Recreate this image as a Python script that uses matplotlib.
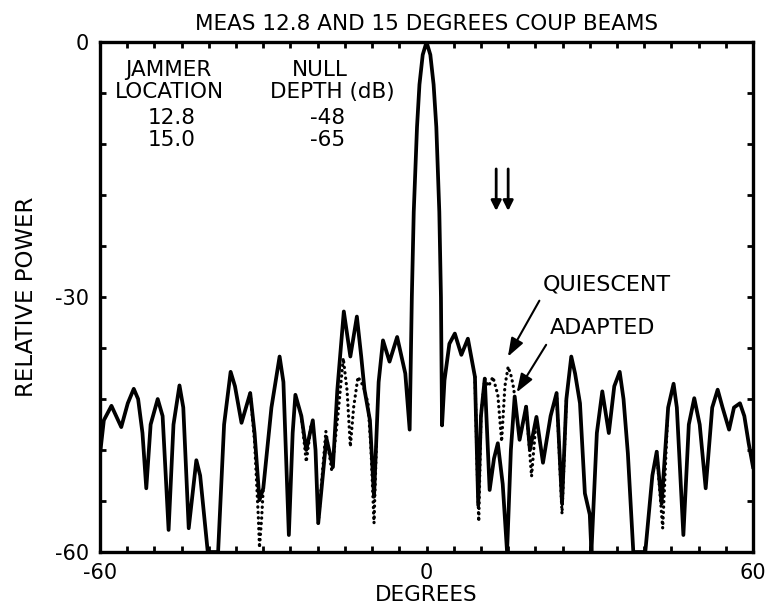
import numpy as np
import matplotlib.pyplot as plt
from matplotlib.ticker import MultipleLocator, FixedLocator, FixedFormatter

plt.rcParams["font.family"] = "DejaVu Sans"
plt.rcParams["axes.unicode_minus"] = False

# adapted pattern (solid line), degrees vs relative power (dB)
adapted_deg = [-60, -59.3, -57.9, -56.1, -54.9, -53.8, -53.0, -52.2, -51.5, -50.7,
               -49.4, -48.5, -47.4, -46.5, -45.4, -44.7, -43.7, -42.3, -41.6, -40.2,
               -38.3, -37.2, -36.0, -35.2, -34.0, -32.4, -31.6, -30.7, -30.0, -28.5,
               -27.0, -26.3, -25.3, -24.6, -24.1, -23.0, -22.1, -20.9, -20.4, -19.9,
               -18.4, -17.2, -16.4, -15.2, -14.0, -12.8, -12.0, -11.4, -10.4, -9.65,
               -8.8, -8.0, -6.8, -5.4, -3.9, -3.1, -2.7, -2.35, -1.75, -1.3,
               -0.7, 0, 0.7, 1.3, 1.8, 2.35, 2.65, 2.85, 3.3, 4.2,
               5.2, 6.4, 7.6, 8.9, 9.5, 10.0, 10.7, 11.6, 12.4, 13.1,
               14.0, 14.8, 15.5, 16.2, 17.1, 18.3, 19.0, 20.2, 21.4, 22.8,
               23.9, 24.9, 25.7, 26.6, 27.3, 28.2, 29.1, 30.0, 30.3, 31.3,
               32.3, 33.5, 34.5, 35.5, 36.2, 37.0, 38.0, 40.2, 41.5, 42.3,
               43.2, 44.4, 45.4, 46.0, 47.2, 48.2, 49.2, 50.2, 51.3, 52.5,
               53.5, 54.4, 55.6, 56.5, 57.6, 58.4, 59.2, 60]
adapted_db = [-48.5, -44.5, -42.8, -45.3, -42.5, -40.8, -42, -46, -52.5, -45,
              -42.0, -44, -57.4, -45, -40.4, -43, -57.2, -49.2, -51, -60,
              -60, -45, -38.8, -40.5, -44.8, -41.3, -46, -53.9, -52.5, -43,
              -37.0, -40, -58, -46, -41.5, -44, -48, -44.5, -48, -56.6,
              -46.6, -50, -41, -31.7, -37.0, -32.3, -37, -40.9, -44.5, -53.5,
              -40, -35.1, -37.6, -34.7, -39.0, -45.6, -30, -20, -10, -5,
              -1.5, 0, -1.5, -5, -10, -20, -30, -45.1, -39.8, -35.5,
              -34.3, -36.8, -34.9, -39.4, -54.5, -44, -39.6, -52.7, -49, -47.2,
              -52, -60, -48, -41.7, -46.8, -42.9, -48, -44.1, -49.5, -44,
              -41.3, -54.3, -42, -37.0, -39, -42.5, -53.1, -55.6, -60, -46,
              -41.1, -46, -40.5, -38.8, -42, -48.4, -60, -60, -51, -48.2,
              -54.3, -43, -40.2, -43, -58, -45, -41.9, -45, -52.5, -43,
              -40.9, -43, -45.6, -43, -42.5, -44, -47.2, -50]

# quiescent pattern (dotted) where it departs from the adapted one
quiescent_deg = [-32.4, -31.6, -30.9, -30.7, -30.3, -30.0, np.nan,
                 -23.0, -22.1, -21.2, np.nan,
                 -19.9, -18.5, -17.4, -16.3, -15.3, -14.6, -14.0, -13.4, -12.6,
                 -11.6, -10.75, -10.2, -9.65, -9.2, np.nan,
                 8.9, 9.3, 9.6, 10.0, 10.7, 11.4, 12.2, 13.1, 13.8, 14.4, 15.0,
                 15.6, 16.0, 16.2, np.nan,
                 18.3, 19.3, 20.2, np.nan,
                 23.9, 24.9, 25.7, np.nan,
                 42.3, 43.4, 44.3]
quiescent_db = [-41.3, -47, -56, -59.5, -56, -52.5, np.nan,
                -44, -49.4, -45, np.nan,
                -56.6, -45.8, -50.5, -44, -37.2, -41, -47.6, -43, -39.4,
                -40.5, -42.5, -48, -56.6, -47, np.nan,
                -39.4, -50, -56.4, -44, -39.6, -40.5, -39.4, -41.5, -47, -40.5, -38.2,
                -39.4, -40.7, -41.7, np.nan,
                -42.9, -51.1, -44.1, np.nan,
                -41.3, -55.5, -42, np.nan,
                -48.2, -57.2, -44]

jammer_deg = [12.8, 15.0]

fig = plt.figure(figsize=(7.76, 6.12), dpi=100)
ax = fig.add_axes([0.1289, 0.098, 0.8415, 0.8333])

ax.plot(quiescent_deg, quiescent_db, color="black", lw=2.3,
        linestyle=(0, (0.1, 1.6)), dash_capstyle="round")
ax.plot(adapted_deg, adapted_db, color="black", lw=2.7, solid_joinstyle="round")

ax.set_xlim(-60, 60)
ax.set_ylim(-60, 0)

# ticks
ax.xaxis.set_major_locator(FixedLocator([-60, 0, 60]))
ax.xaxis.set_major_formatter(FixedFormatter(["-60", "0", "60"]))
ax.xaxis.set_minor_locator(MultipleLocator(5))
ax.yaxis.set_major_locator(FixedLocator([-60, -30, 0]))
ax.yaxis.set_major_formatter(FixedFormatter(["-60", "-30", "0"]))
ax.yaxis.set_minor_locator(MultipleLocator(6))
ax.tick_params(which="both", direction="in", top=True, right=True,
               length=4.5, width=2, labelsize=15, pad=8)
for s in ax.spines.values():
    s.set_linewidth(2.4)

ax.set_title("MEAS 12.8 AND 15 DEGREES COUP BEAMS", fontsize=15.5, pad=9)
ax.set_xlabel("DEGREES", fontsize=15.5, labelpad=1)
ax.set_ylabel("RELATIVE POWER", fontsize=16.5, labelpad=12)

# jammer table
fs = 15.5
ax.text(-47.4, -3.3, "JAMMER", ha="center", va="center", fontsize=fs)
ax.text(-47.2, -5.9, "LOCATION", ha="center", va="center", fontsize=fs)
ax.text(-46.8, -8.9, "12.8", ha="center", va="center", fontsize=fs)
ax.text(-46.8, -11.5, "15.0", ha="center", va="center", fontsize=fs)
ax.text(-19.6, -3.3, "NULL", ha="center", va="center", fontsize=fs)
ax.text(-17.4, -5.9, "DEPTH (dB)", ha="center", va="center", fontsize=fs)
ax.text(-18.1, -8.9, "-48", ha="center", va="center", fontsize=fs)
ax.text(-18.1, -11.5, "-65", ha="center", va="center", fontsize=fs)

# jammer arrows
for jd in jammer_deg:
    ax.annotate("", xy=(jd, -20.2), xytext=(jd, -14.6),
                arrowprops=dict(arrowstyle="-|>,head_length=0.6,head_width=0.3",
                                color="black", lw=2))

ax.annotate("QUIESCENT", xy=(14.7, -37.3), xytext=(21.4, -28.5),
            ha="left", va="center", fontsize=16,
            arrowprops=dict(arrowstyle="-|>,head_length=0.7,head_width=0.25",
                            color="black", lw=1.5, shrinkA=3,
                            relpos=(0.0, 0.0)))
ax.annotate("ADAPTED", xy=(16.3, -41.5), xytext=(22.7, -33.7),
            ha="left", va="center", fontsize=16,
            arrowprops=dict(arrowstyle="-|>,head_length=0.7,head_width=0.25",
                            color="black", lw=1.5, shrinkA=3,
                            relpos=(0.0, 0.0)))

fig.savefig("out.png", dpi=100)
